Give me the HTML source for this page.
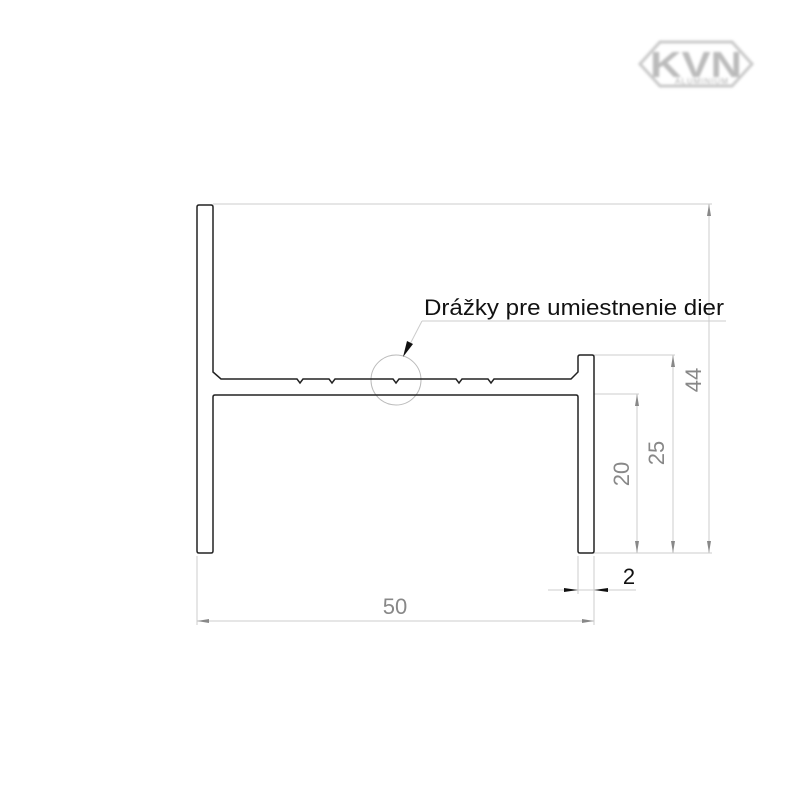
<!DOCTYPE html><html><head><style>body{margin:0;background:#fff}svg{display:block}</style></head><body>
<svg width="790" height="790" viewBox="0 0 790 790" xmlns="http://www.w3.org/2000/svg" font-family="Liberation Sans, sans-serif">
<defs><filter id="b"><feGaussianBlur stdDeviation="1.2"/></filter></defs>
<g filter="url(#b)" opacity="0.8">
<polygon points="640,64 660,42 732,42 752,64 732,86 660,86" fill="none" stroke="#bbb" stroke-width="3"/>
<text x="696" y="77" text-anchor="middle" font-size="36" font-weight="bold" fill="#aaa" textLength="92" lengthAdjust="spacingAndGlyphs">KVN</text>
<text x="702" y="84" text-anchor="middle" font-size="8" fill="#999" letter-spacing="1">ALUMINIUM</text>
</g>
<g fill="none" stroke="#ccc" stroke-width="1">
<line x1="213" y1="204" x2="712" y2="204"/>
<line x1="594" y1="355" x2="675" y2="355"/>
<line x1="594" y1="394" x2="639" y2="394"/>
<line x1="594" y1="553" x2="712" y2="553"/>
<line x1="709" y1="204" x2="709" y2="553"/>
<line x1="673" y1="355" x2="673" y2="553"/>
<line x1="637" y1="394" x2="637" y2="553"/>
<line x1="197" y1="556" x2="197" y2="625"/>
<line x1="594" y1="556" x2="594" y2="625"/>
<line x1="578" y1="556" x2="578" y2="594"/>
<line x1="197" y1="621" x2="594" y2="621"/>
<line x1="548" y1="590" x2="636" y2="590"/>
<line x1="422" y1="321" x2="726" y2="321"/>
<line x1="422" y1="321" x2="408" y2="348"/>
<circle cx="396" cy="380" r="25" stroke="#bbb"/>
</g>
<g fill="#888">
<polygon points="709,204 707,216 711,216"/><polygon points="709,553 707,541 711,541"/>
<polygon points="673,355 671,367 675,367"/><polygon points="673,553 671,541 675,541"/>
<polygon points="637,394 635,406 639,406"/><polygon points="637,553 635,541 639,541"/>
<polygon points="197,621 209,619 209,623"/><polygon points="594,621 582,619 582,623"/>
</g>
<g fill="#111">
<polygon points="578,590 564,588 564,592"/><polygon points="594,590 608,588 608,592"/>
<polygon points="403,357 407,341 413,344"/>
</g>
<path d="M199,205 H211 Q213,205 213,207 V372 L221,379 H297 L300,383 L303,379 H329 L332,383 L335,379 H393 L396,383 L399,379 H456 L459,383 L462,379 H488 L491,383 L494,379 H571 L578,372 V357 Q578,355 580,355 H592 Q594,355 594,357 V551 Q594,553 592,553 H580 Q578,553 578,551 V397 Q578,395 576,395 H215 Q213,395 213,397 V551 Q213,553 211,553 H199 Q197,553 197,551 V207 Q197,205 199,205 Z" fill="none" stroke="#222" stroke-width="1.5"/>
<text x="424" y="315" font-size="22" fill="#111" textLength="300" lengthAdjust="spacingAndGlyphs">Drážky pre umiestnenie dier</text>
<text x="395" y="614" font-size="22" fill="#888" text-anchor="middle">50</text>
<text x="629" y="584" font-size="22" fill="#111" text-anchor="middle">2</text>
<text transform="translate(701,380) rotate(-90)" font-size="22" fill="#888" text-anchor="middle">44</text>
<text transform="translate(664,453) rotate(-90)" font-size="22" fill="#888" text-anchor="middle">25</text>
<text transform="translate(629,474) rotate(-90)" font-size="22" fill="#888" text-anchor="middle">20</text>
</svg></body></html>
